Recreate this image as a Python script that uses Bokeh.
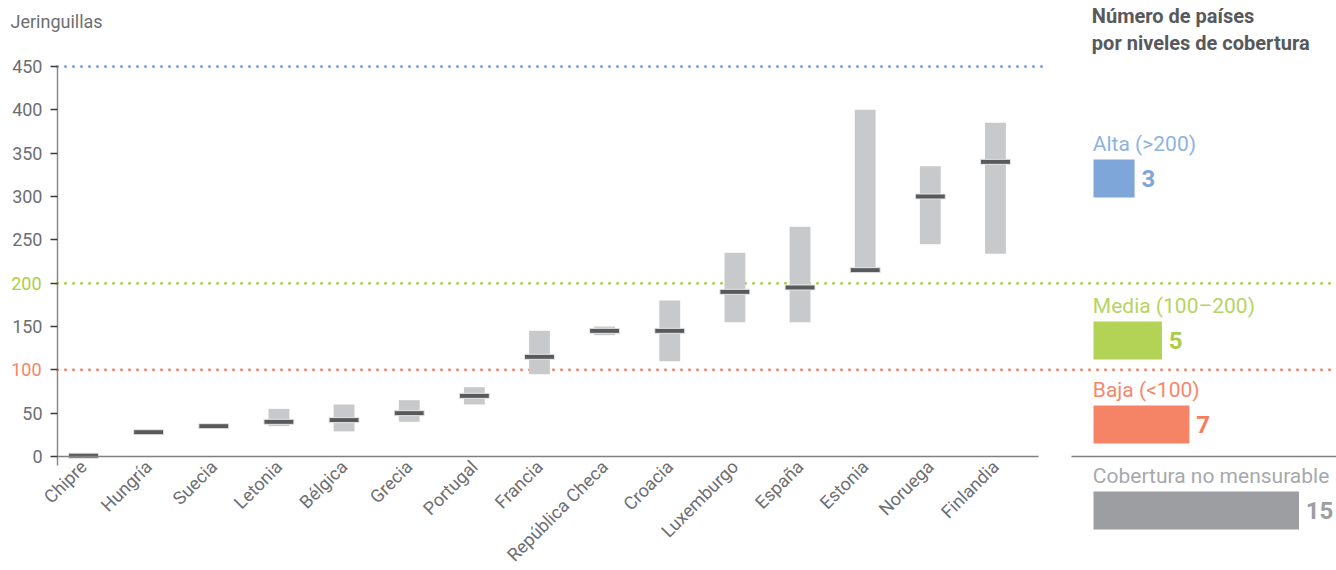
import math
from bokeh.plotting import figure
from bokeh.models import Range1d, FixedTicker, Label
from bokeh.core.properties import value
from bokeh.embed import file_html
from bokeh.resources import INLINE

# ---------------- data ----------------
countries = ["Chipre", "Hungría", "Suecia", "Letonia", "Bélgica", "Grecia", "Portugal",
             "Francia", "República Checa", "Croacia", "Luxemburgo", "España",
             "Estonia", "Noruega", "Finlandia"]
medians = [1, 28, 35, 40, 42, 50, 70, 115, 145, 145, 190, 195, 215, 300, 340]
lows = [1, 28, 35, 35, 29, 40, 60, 95, 140, 110, 155, 155, 215, 245, 234]
highs = [1, 28, 35, 55, 60, 65, 80, 145, 150, 180, 235, 265, 400, 335, 385]

y_ticks = [0, 50, 100, 150, 200, 250, 300, 350, 400, 450]
y_title = "Jeringuillas"

threshold_values = [450, 200, 100]
threshold_colors = ["#76a3db", "#a8cf45", "#f58466"]

panel_title = "Número de países\npor niveles de cobertura"
level_labels = ["Alta (>200)", "Media (100–200)", "Baja (<100)", "Cobertura no mensurable"]
level_counts = [3, 5, 7, 15]
level_bar_colors = ["#7ea6d8", "#b2d356", "#f58466", "#9d9ea2"]
level_text_colors = ["#8fb3e0", "#b6d461", "#f5876a", "#a7a8ab"]
level_num_colors = ["#7ea6d8", "#a9cd47", "#f47d5e", "#9d9ea2"]

# ---------------- layout constants ----------------
FONT = "Roboto"
W, H = 1336, 570
S = 390 / 450                 # px per data unit (vertical)
Y1 = 450 + 66 / S             # 450 drawn 66 px below the top
Y0 = Y1 - H / S
PXU = 65.14                   # px per country (main chart)
X0 = -83 / PXU                # first country 83 px from the left edge
X1 = X0 + W / PXU
AXIS_X = X0 + 57 / PXU        # y axis 57 px from the left edge
MAIN_RIGHT = X0 + 1042 / PXU  # end of the main chart area
PX = 13.7                     # px per country in the side panel
P0 = -1093 / PX               # panel bars start 1093 px from the left edge
P1 = P0 + W / PX

p = figure(width=W, height=H, x_range=Range1d(X0, X1), y_range=Range1d(Y0, Y1),
           output_backend="svg", toolbar_location=None, min_border=0)
p.extra_x_ranges = {"panel": Range1d(P0, P1)}
p.outline_line_color = None
p.grid.visible = False

# threshold lines
p.segment(x0=[AXIS_X], y0=[threshold_values[0]], x1=[MAIN_RIGHT], y1=[threshold_values[0]],
          line_color=threshold_colors[0], line_width=3, line_dash="0 8", line_cap="round")
for v, c in zip(threshold_values[1:], threshold_colors[1:]):
    p.segment(x0=[AXIS_X], y0=[v], x1=[X1 + 1], y1=[v], line_color=c, line_width=3,
              line_dash="0 8", line_cap="round")

# ranges and medians
xs = list(range(len(countries)))
p.vbar(x=xs, width=0.32, bottom=lows, top=highs, fill_color="#c8c9cb", line_color=None)
p.rect(x=xs, y=medians, width=0.46, height=5, height_units="screen",
       fill_color="#58595b", line_color="#e6e6e6", line_width=1)

# x axis, drawn at y = 0 inside the frame
p.xaxis.fixed_location = 0
p.xaxis.ticker = FixedTicker(ticks=xs)
p.xaxis.major_label_overrides = {i: c for i, c in enumerate(countries)}
p.xaxis.major_label_orientation = math.pi / 4
p.xaxis.bounds = (AXIS_X, 14.66)
p.xaxis.major_tick_out = 0
p.xaxis.major_tick_in = 0
p.xaxis.minor_tick_out = 0
p.xaxis.minor_tick_in = 0
p.xaxis.axis_line_color = "#7f7f7f"
p.xaxis.axis_line_width = 1.5
p.xaxis.major_label_text_font = FONT
p.xaxis.major_label_text_font_size = "18px"
p.xaxis.major_label_text_color = "#6d6e71"
p.xaxis.major_label_standoff = 7

# y axis, drawn inside the frame
p.yaxis.fixed_location = AXIS_X
p.yaxis.bounds = (-10, 450)
p.yaxis.ticker = FixedTicker(ticks=y_ticks)
p.yaxis.major_label_overrides = {100: "", 200: ""}
p.yaxis.major_tick_out = 7
p.yaxis.major_tick_in = 0
p.yaxis.minor_tick_out = 0
p.yaxis.minor_tick_in = 0
p.yaxis.major_tick_line_color = "#3a3a3a"
p.yaxis.major_tick_line_width = 1.5
p.yaxis.axis_line_color = "#8a8a8a"
p.yaxis.axis_line_width = 1.5
p.yaxis.major_label_text_font = FONT
p.yaxis.major_label_text_font_size = "18px"
p.yaxis.major_label_text_color = "#6d6e71"
p.yaxis.major_label_standoff = 8

for v, c in zip(threshold_values[1:], threshold_colors[1:]):
    p.add_layout(Label(x=AXIS_X, y=v, x_offset=-16, text=str(v), text_align="right",
                       text_baseline="middle", text_color=c, text_font_size="18px",
                       text_font=FONT))

p.add_layout(Label(x=AXIS_X, y=Y1 - 10 / S, x_offset=-47, text=y_title, text_align="left",
                   text_baseline="top", text_color="#6d6e71", text_font_size="18px",
                   text_font=FONT))

# ---------------- side panel (own x range) ----------------
p.segment(x0=[-22 / PX], y0=[0], x1=[P1 + 1], y1=[0], line_color="#7f7f7f",
          line_width=1.5, x_range_name="panel")

bar_px = [278, 116, 32, -54]          # bar centres, px above the baseline
bar_y = [b / S for b in bar_px]
p.hbar(y=bar_y, left=0, right=level_counts, height=38 / S,
       fill_color=level_bar_colors, line_color=None, x_range_name="panel")
p.text(x=[-0.05] * 4, y=[b + 35 / S for b in bar_y], text=level_labels,
       text_color=level_text_colors, text_font=value(FONT), text_font_size="21px",
       text_baseline="middle", text_align="left", x_range_name="panel")
p.text(x=[c + 0.5 for c in level_counts], y=bar_y, text=[str(c) for c in level_counts],
       text_color=level_num_colors, text_font=value(FONT), text_font_size="24px",
       text_font_style="bold", text_baseline="middle", text_align="left",
       x_range_name="panel")
p.text(x=[-0.12], y=[Y1 - 3 / S], text=[panel_title], text_color="#58595b",
       text_font=value(FONT), text_font_size="20px", text_font_style="bold",
       text_baseline="top", text_align="left", text_line_height=1.15,
       x_range_name="panel")

open("out.html", "w").write(file_html(p, INLINE))
